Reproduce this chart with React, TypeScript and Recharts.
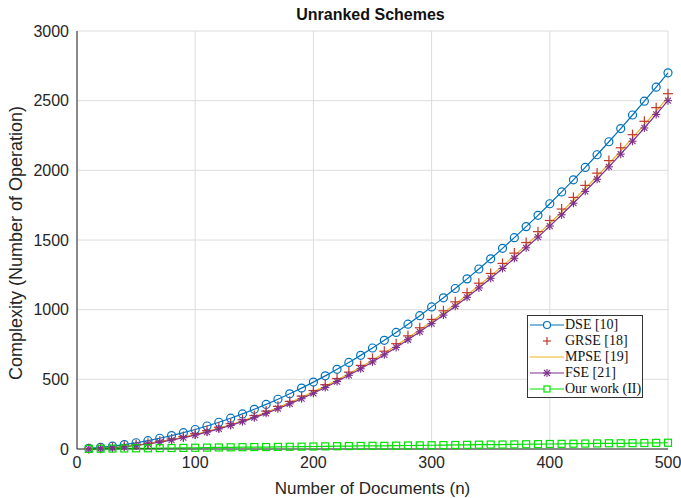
import React from "react";
import { LineChart, Line, XAxis, YAxis, CartesianGrid } from "recharts";

const nValues = [10,20,30,40,50,60,70,80,90,100,110,120,130,140,150,160,170,180,190,200,210,220,230,240,250,260,270,280,290,300,310,320,330,340,350,360,370,380,390,400,410,420,430,440,450,460,470,480,490,500];
const dse = [5,12,21,32,45,60,77,96,117,140,165,192,221,252,285,320,357,396,437,480,525,572,621,672,725,780,837,896,957,1020,1085,1152,1221,1292,1365,1440,1517,1596,1677,1760,1845,1932,2021,2112,2205,2300,2397,2496,2597,2700];
const grse = [2,6,12,20,30,42,56,72,90,110,132,156,182,210,240,272,306,342,380,420,462,506,552,600,650,702,756,812,870,930,992,1056,1122,1190,1260,1332,1406,1482,1560,1640,1722,1806,1892,1980,2070,2162,2256,2352,2450,2550];
const mpse = [1.5,5,10.5,18,27.5,39,52.5,68,85.5,105,126.5,150,175.5,203,232.5,264,297.5,333,370.5,410,451.5,495,540.5,588,637.5,689,742.5,798,855.5,915,976.5,1040,1105.5,1173,1242.5,1314,1387.5,1464,1540.5,1620,1701.5,1785,1870.5,1958,2047.5,2139,2232.5,2328,2425.5,2525];
const fse = [1,4,9,16,25,36,49,64,81,100,121,144,169,196,225,256,289,324,361,400,441,484,529,576,625,676,729,784,841,900,961,1024,1089,1156,1225,1296,1369,1444,1521,1600,1681,1764,1849,1936,2025,2116,2209,2304,2401,2500];
const ours = [1,2,3,4,5,5,6,7,8,9,10,11,12,13,14,14,15,16,17,18,19,20,21,22,23,23,24,25,26,27,28,29,30,31,32,32,33,34,35,36,37,38,39,40,41,41,42,43,44,45];

const xTicks = [0, 100, 200, 300, 400, 500];
const yTicks = [0, 500, 1000, 1500, 2000, 2500, 3000];

const seriesNames = ["DSE [10]", "GRSE [18]", "MPSE [19]", "FSE [21]", "Our work (II)"];
const colors = ["#0072BD", "#C0392B", "#EDB120", "#7E2F8E", "#00E000"];

const data = nValues.map((n, i) => ({
  n,
  dse: dse[i],
  grse: grse[i],
  mpse: mpse[i],
  fse: fse[i],
  ours: ours[i],
}));

const CircleDot = (p: any) => {
  if (p.cx == null || p.cy == null) return <g key={p.index} />;
  return <circle key={p.index} cx={p.cx} cy={p.cy} r={4} fill="none" stroke={colors[0]} strokeWidth={1.2} />;
};
const PlusDot = (p: any) => {
  if (p.cx == null || p.cy == null) return <g key={p.index} />;
  const s = 5;
  return (
    <g key={p.index} stroke={colors[1]} strokeWidth={1.2}>
      <line x1={p.cx - s} y1={p.cy} x2={p.cx + s} y2={p.cy} />
      <line x1={p.cx} y1={p.cy - s} x2={p.cx} y2={p.cy + s} />
    </g>
  );
};
const StarDot = (p: any) => {
  if (p.cx == null || p.cy == null) return <g key={p.index} />;
  const s = 4;
  const d = 3;
  return (
    <g key={p.index} stroke={colors[3]} strokeWidth={1.1}>
      <line x1={p.cx - s} y1={p.cy} x2={p.cx + s} y2={p.cy} />
      <line x1={p.cx} y1={p.cy - s} x2={p.cx} y2={p.cy + s} />
      <line x1={p.cx - d} y1={p.cy - d} x2={p.cx + d} y2={p.cy + d} />
      <line x1={p.cx - d} y1={p.cy + d} x2={p.cx + d} y2={p.cy - d} />
    </g>
  );
};
const SquareDot = (p: any) => {
  if (p.cx == null || p.cy == null) return <g key={p.index} />;
  return <rect key={p.index} x={p.cx - 3.5} y={p.cy - 3.5} width={7} height={7} fill="none" stroke={colors[4]} strokeWidth={1.2} />;
};

const LegendIcon = ({ i }: { i: number }) => {
  const w = 34;
  const c = w / 2;
  const y = 8;
  return (
    <svg width={w} height={16} style={{ display: "block", flex: "none" }}>
      {i !== 1 && <line x1={0} y1={y} x2={w} y2={y} stroke={colors[i]} strokeWidth={1.2} />}
      {i === 0 && <circle cx={c} cy={y} r={3.5} fill="white" stroke={colors[0]} strokeWidth={1.2} />}
      {i === 1 && (
        <g stroke={colors[1]} strokeWidth={1.2}>
          <line x1={c - 4} y1={y} x2={c + 4} y2={y} />
          <line x1={c} y1={y - 4} x2={c} y2={y + 4} />
        </g>
      )}
      {i === 3 && (
        <g stroke={colors[3]} strokeWidth={1.1}>
          <line x1={c - 4} y1={y} x2={c + 4} y2={y} />
          <line x1={c} y1={y - 4} x2={c} y2={y + 4} />
          <line x1={c - 3} y1={y - 3} x2={c + 3} y2={y + 3} />
          <line x1={c - 3} y1={y + 3} x2={c + 3} y2={y - 3} />
        </g>
      )}
      {i === 4 && <rect x={c - 3} y={y - 3} width={6} height={6} fill="white" stroke={colors[4]} strokeWidth={1.2} />}
    </svg>
  );
};

const LegendBox = () => (
  <div
    style={{
      position: "absolute",
      left: 527,
      top: 315,
      width: 116,
      height: 83,
      background: "white",
      border: "1px solid #333",
      padding: "1px 2px",
      fontFamily: "'Liberation Serif', 'Times New Roman', serif",
      fontSize: 14,
      color: "#111",
      boxSizing: "border-box",
    }}
  >
    {seriesNames.map((name, i) => (
      <div key={name} style={{ display: "flex", alignItems: "center", height: 16 }}>
        <LegendIcon i={i} />
        <span style={{ marginLeft: 1, whiteSpace: "nowrap" }}>{name}</span>
      </div>
    ))}
  </div>
);

const tickStyle = { fill: "#262626", fontSize: 16, fontFamily: "'Liberation Sans', Arial, sans-serif" };

export default function App() {
  return (
    <div style={{ position: "absolute", left: 0, top: 0, width: 681, height: 498, background: "white" }}>
      <div
        style={{
          position: "absolute",
          left: 0,
          width: 681,
          top: 6,
          textAlign: "center",
          paddingLeft: 60,
          boxSizing: "border-box",
          fontFamily: "'Liberation Sans', Arial, sans-serif",
          fontWeight: "bold",
          fontSize: 16,
          color: "#111",
        }}
      >
        Unranked Schemes
      </div>
      <LineChart
        width={681}
        height={498}
        data={data}
        margin={{ top: 31, right: 13, bottom: 19, left: 17 }}
      >
        <CartesianGrid stroke="#dcdcdc" strokeWidth={1} />
        <XAxis
          dataKey="n"
          type="number"
          domain={[0, 500]}
          ticks={xTicks}
          tick={tickStyle}
          tickLine={false}
          axisLine={{ stroke: "#262626" }}
          height={30}
          label={{
            value: "Number of Documents (n)",
            position: "insideBottom",
            offset: -15,
            style: { fill: "#262626", fontSize: 17, fontFamily: "'Liberation Sans', Arial, sans-serif" },
          }}
        />
        <XAxis xAxisId="top" orientation="top" dataKey="n" type="number" domain={[0, 500]} ticks={xTicks} tick={false} tickLine={false} axisLine={{ stroke: "#262626" }} height={0} />
        <YAxis
          type="number"
          domain={[0, 3000]}
          ticks={yTicks}
          tick={tickStyle}
          tickLine={false}
          axisLine={{ stroke: "#262626" }}
          width={60}
          label={{
            value: "Complexity (Number of Operation)",
            angle: -90,
            position: "insideLeft",
            offset: -1,
            dy: 140,
            style: { fill: "#262626", fontSize: 18, fontFamily: "'Liberation Sans', Arial, sans-serif" },
          }}
        />
        <YAxis yAxisId="right" orientation="right" type="number" domain={[0, 3000]} ticks={yTicks} tick={false} tickLine={false} axisLine={{ stroke: "#262626" }} width={0} />
        <Line dataKey="dse" name={seriesNames[0]} stroke={colors[0]} strokeWidth={1.2} dot={CircleDot} isAnimationActive={false} />
        <Line dataKey="grse" name={seriesNames[1]} stroke="none" dot={PlusDot} isAnimationActive={false} />
        <Line dataKey="mpse" name={seriesNames[2]} stroke={colors[2]} strokeWidth={1.2} dot={false} isAnimationActive={false} />
        <Line dataKey="fse" name={seriesNames[3]} stroke={colors[3]} strokeWidth={1.2} dot={StarDot} isAnimationActive={false} />
        <Line dataKey="ours" name={seriesNames[4]} stroke={colors[4]} strokeWidth={1.2} dot={SquareDot} isAnimationActive={false} />
      </LineChart>
      <LegendBox />
    </div>
  );
}
